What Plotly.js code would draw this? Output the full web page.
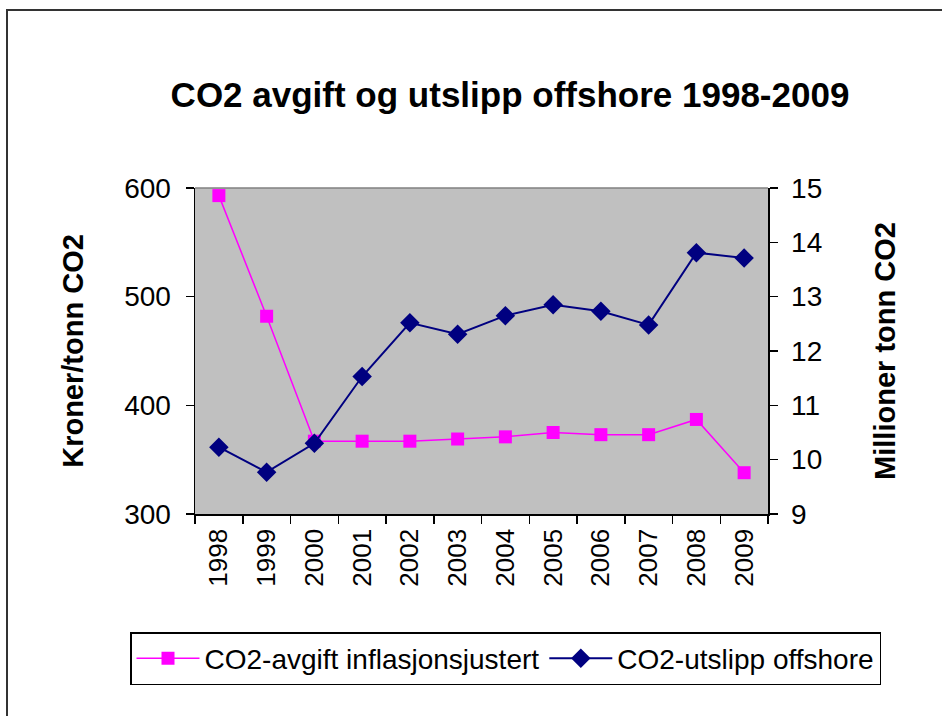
<!DOCTYPE html>
<html>
<head>
<meta charset="utf-8">
<script src="https://cdn.plot.ly/plotly-3.0.1.min.js"></script>
<style>html,body{margin:0;padding:0;background:#fff;}#chart{width:942px;height:716px;}</style>
</head>
<body>
<div id="chart"></div>
<script>
const years = ["1998","1999","2000","2001","2002","2003","2004","2005","2006","2007","2008","2009"];
const avgift = [593, 482, 367, 367, 367, 369, 371, 375, 373, 373, 387, 338];
const utslipp = [10.23, 9.77, 10.30, 11.53, 12.52, 12.31, 12.65, 12.85, 12.73, 12.48, 13.81, 13.71];
const seriesNames = ["CO2-avgift inflasjonsjustert", "CO2-utslipp offshore"];
const titleText = "CO2 avgift og utslipp offshore 1998-2009";
const leftTitle = "Kroner/tonn CO2";
const rightTitle = "Millioner tonn CO2";

const FONT = "Liberation Sans, Arial, sans-serif";

const traces = [
  {
    x: years, y: avgift, name: seriesNames[0], type: "scatter", mode: "lines+markers",
    line: {color: "#FF00FF", width: 1.5},
    marker: {symbol: "square", size: 13, color: "#FF00FF"},
    yaxis: "y"
  },
  {
    x: years, y: utslipp, name: seriesNames[1], type: "scatter", mode: "lines+markers",
    line: {color: "#000080", width: 2},
    marker: {symbol: "diamond", size: 15, color: "#000080"},
    yaxis: "y2"
  }
];

const layout = {
  width: 942, height: 716,
  margin: {l: 195, r: 174, t: 188, b: 202, pad: 0},
  paper_bgcolor: "#FFFFFF",
  plot_bgcolor: "#C0C0C0",
  font: {family: FONT, color: "#000", size: 28},
  title: {text: "<b>" + titleText + "</b>", font: {family: FONT, size: 35, color: "#000"},
          x: 510 / 942, xanchor: "center", y: 1 - 95/716, yanchor: "middle", xref: "container", yref: "container"},
  xaxis: {
    type: "category", range: [-0.5, 11.5], tickson: "boundaries",
    ticks: "outside", ticklen: 8, tickcolor: "#000", tickwidth: 1.5,
    showline: true, linecolor: "#000", linewidth: 1.5, mirror: false,
    showgrid: false, zeroline: false, ticklabelstandoff: 3,
    tickangle: -90, tickfont: {family: FONT, size: 26, color: "#000"}
  },
  yaxis: {
    range: [300, 600], tickvals: [300, 400, 500, 600], ticks: "outside", ticklen: 8, tickcolor: "#000", tickwidth: 1.5,
    showline: true, linecolor: "#000", linewidth: 1.5, showgrid: false, zeroline: false,
    ticklabelstandoff: 9,
    tickfont: {family: FONT, size: 28, color: "#000"},
    title: {text: "<b>" + leftTitle + "</b>", font: {family: FONT, size: 29, color: "#000"}, standoff: 32}
  },
  yaxis2: {
    range: [9, 15], tickvals: [9, 10, 11, 12, 13, 14, 15], overlaying: "y", side: "right",
    ticks: "outside", ticklen: 8, tickcolor: "#000", tickwidth: 1.5,
    showline: true, linecolor: "#000", linewidth: 1.5, showgrid: false, zeroline: false,
    ticklabelstandoff: 8,
    tickfont: {family: FONT, size: 28, color: "#000"},
    title: {text: "<b>" + rightTitle + "</b>", font: {family: FONT, size: 29, color: "#000"}, standoff: 53}
  },
  showlegend: true,
  legend: {
    orientation: "h", x: (130 - 195) / 573, xanchor: "left", y: 1 - (632 - 188) / 326, yanchor: "top",
    bgcolor: "#FFFFFF", bordercolor: "#000", borderwidth: 1.5,
    font: {family: FONT, size: 28, color: "#000"}, itemwidth: 63, tracegroupgap: 0
  },
  shapes: [
    {type: "rect", xref: "paper", yref: "paper", x0: (7 - 195) / 573, x1: 1.6, y0: -1.0, y1: 1 + (188 - 10) / 326,
     line: {color: "#333", width: 2}, fillcolor: "rgba(0,0,0,0)", layer: "below"},
    {type: "line", xref: "paper", yref: "paper", x0: 0, x1: 1, y0: 1, y1: 1, line: {color: "#808080", width: 1.5}}
  ]
};

Plotly.newPlot("chart", traces, layout, {displayModeBar: false, staticPlot: true});
</script>
</body>
</html>
